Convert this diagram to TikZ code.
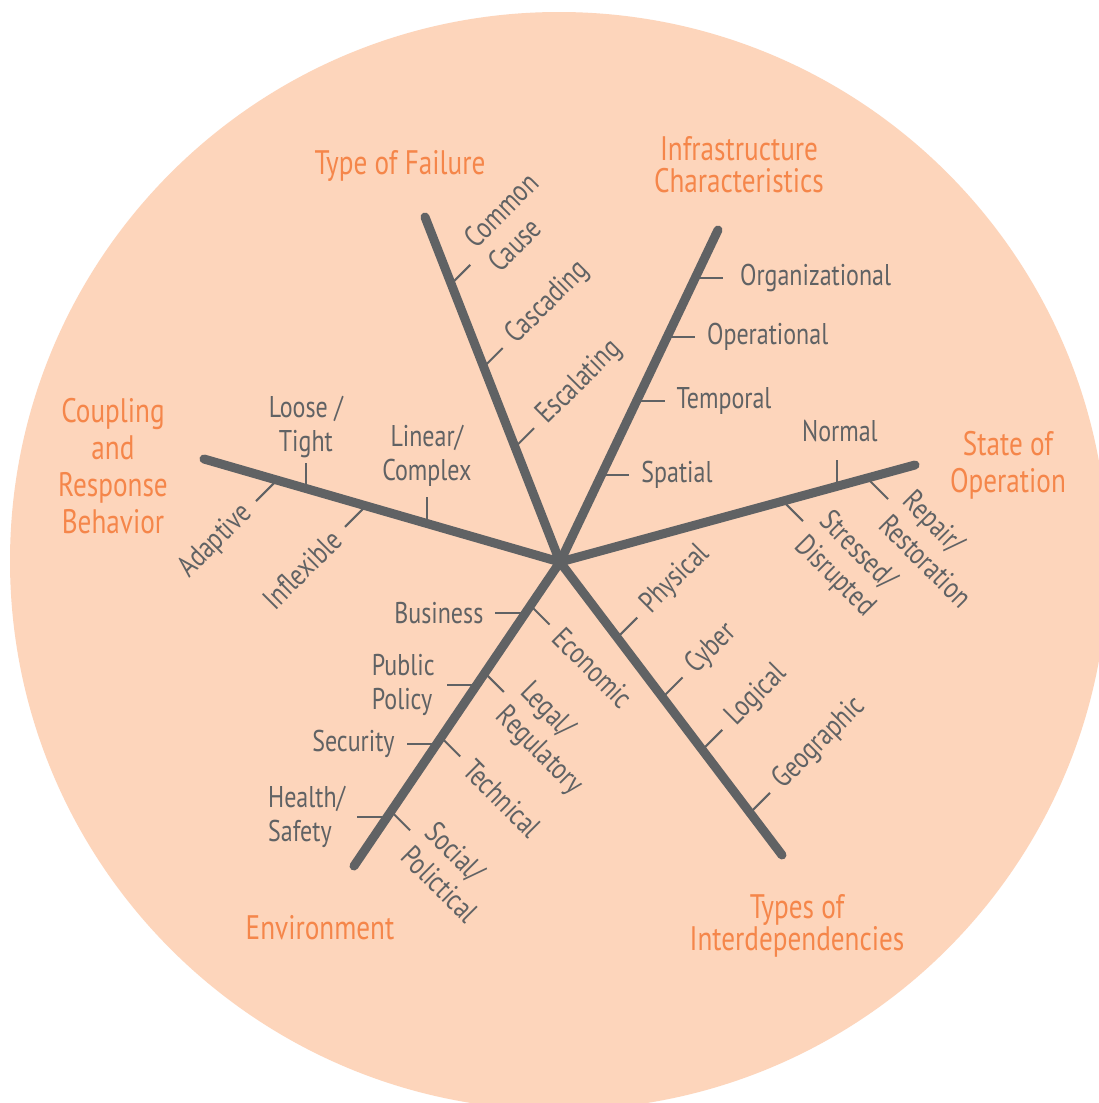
\documentclass[tikz,border=0pt]{standalone}
\usepackage{fontspec}
\setmainfont{PT Sans}[FakeStretch=0.8]
\usetikzlibrary{calc}
\definecolor{discpeach}{RGB}{253,213,187}
\definecolor{spokegray}{RGB}{96,98,100}
\definecolor{headorange}{RGB}{245,134,74}

\begin{document}
\begin{tikzpicture}[x=1pt, y=-1pt,
  spoke/.style={draw=spokegray, line width=9pt, line cap=round},
  tick/.style={draw=spokegray, line width=2pt},
  lbl/.style={text=spokegray, font=\fontsize{30}{34}\selectfont, inner xsep=11pt, inner ysep=5pt, align=left},
  head/.style={text=headorange, font=\fontsize{34}{37}\selectfont, align=center, inner sep=0pt}
]
  \clip (0,0) rectangle (1099,1103);
  \fill[white] (0,0) rectangle (1099,1103);
  \fill[discpeach] (559,561) circle (549pt);

  % hub and the six spoke ends
  \coordinate (hub) at (560,562);
  \coordinate (failure) at (425,217);
  \coordinate (infra) at (718,230);
  \coordinate (state) at (915,465);
  \coordinate (interdep) at (782,855);
  \coordinate (envir) at (354,866);
  \coordinate (coupling) at (204,459);

  \draw[spoke] (hub) -- (failure);
  \draw[spoke] (hub) -- (infra);
  \draw[spoke] (hub) -- (state);
  \draw[spoke] (hub) -- (interdep);
  \draw[spoke] (hub) -- (envir);
  \draw[spoke] (hub) -- (coupling);

  % type of failure
  \draw[tick] ($(hub)!.806!(failure)$) -- ++(19,-19) node[lbl, rotate=45, anchor=west, inner xsep=14pt] (common) {Common\\Cause};
  \draw[tick] ($(hub)!.565!(failure)$) -- ++(19,-19) node[lbl, rotate=45, anchor=west] (cascading) {Cascading};
  \draw[tick] ($(hub)!.333!(failure)$) -- ++(19,-19) node[lbl, rotate=45, anchor=west] (escalating) {Escalating};

  % infrastructure characteristics
  \draw[tick] ($(hub)!.855!(infra)$) -- ++(28,0) node[lbl, anchor=west, xshift=5pt] (organizational) {Organizational};
  \draw[tick] ($(hub)!.678!(infra)$) -- ++(28,0) node[lbl, anchor=west] (operational) {Operational};
  \draw[tick] ($(hub)!.485!(infra)$) -- ++(28,0) node[lbl, anchor=west] (temporal) {Temporal};
  \draw[tick] ($(hub)!.262!(infra)$) -- ++(28,0) node[lbl, anchor=west] (spatial) {Spatial};

  % state of operation
  \draw[tick] ($(hub)!.780!(state)$) -- ++(0,-26) node[lbl, anchor=south, align=center, yshift=12pt, xshift=3pt] (normal) {Normal};
  \draw[tick] ($(hub)!.865!(state)$) -- ++(21,21) node[lbl, rotate=-45, anchor=west] (repair) {Repair/\\Restoration};
  \draw[tick] ($(hub)!.628!(state)$) -- ++(20,20) node[lbl, rotate=-45, anchor=west] (stressed) {Stressed/\\Disrupted};

  % types of interdependencies
  \draw[tick] ($(hub)!.258!(interdep)$) -- ++(20,-20) node[lbl, rotate=45, anchor=west] (physical) {Physical};
  \draw[tick] ($(hub)!.462!(interdep)$) -- ++(20,-20) node[lbl, rotate=45, anchor=west] (cyber) {Cyber};
  \draw[tick] ($(hub)!.641!(interdep)$) -- ++(20,-20) node[lbl, rotate=45, anchor=west] (logical) {Logical};
  \draw[tick] ($(hub)!.856!(interdep)$) -- ++(20,-20) node[lbl, rotate=45, anchor=west] (geographic) {Geographic};

  % environment
  \draw[tick] ($(hub)!.168!(envir)$) -- ++(-30,0) node[lbl, anchor=east] (business) {Business};
  \draw[tick] ($(hub)!.405!(envir)$) -- ++(-30,0) node[lbl, anchor=east] (policy) {Public\\Policy};
  \draw[tick] ($(hub)!.599!(envir)$) -- ++(-30,0) node[lbl, anchor=east] (security) {Security};
  \draw[tick] ($(hub)!.839!(envir)$) -- ++(-30,0) node[lbl, anchor=east] (health) {Health/\\Safety};
  \draw[tick] ($(hub)!.143!(envir)$) -- ++(19,19) node[lbl, rotate=-45, anchor=west] (economic) {Economic};
  \draw[tick] ($(hub)!.365!(envir)$) -- ++(19,19) node[lbl, rotate=-45, anchor=west] (legal) {Legal/\\Regulatory};
  \draw[tick] ($(hub)!.577!(envir)$) -- ++(19,19) node[lbl, rotate=-45, anchor=west] (technical) {Technical};
  \draw[tick] ($(hub)!.820!(envir)$) -- ++(19,19) node[lbl, rotate=-45, anchor=west] (social) {Social/\\Polictical};

  % coupling and response behavior
  \draw[tick] ($(hub)!.714!(coupling)$) -- ++(0,-25) node[lbl, anchor=south, align=center] (loose) {Loose /\\Tight};
  \draw[tick] ($(hub)!.374!(coupling)$) -- ++(0,-26) node[lbl, anchor=south, align=center, yshift=5pt] (linear) {Linear/\\Complex};
  \draw[tick] ($(hub)!.795!(coupling)$) -- ++(-21,21) node[lbl, rotate=45, anchor=east] (adaptive) {Adaptive};
  \draw[tick] ($(hub)!.545!(coupling)$) -- ++(-21,21) node[lbl, rotate=45, anchor=east] (inflexible) {Inflexible};

  % headings
  \node[head] (failureT) at (400,166) {Type of Failure};
  \node[head, font=\fontsize{34}{32}\selectfont] (infraT) at (739,165) {Infrastructure\\Characteristics};
  \node[head] (stateT) at (1008,465) {State of\\Operation};
  \node[head, font=\fontsize{34}{32}\selectfont] (interdepT) at (797,926) {Types of\\Interdependencies};
  \node[head] (envirT) at (320,928) {Environment};
  \node[head] (couplingT) at (113,466) {Coupling\\and\\Response\\Behavior};
\end{tikzpicture}
\end{document}
